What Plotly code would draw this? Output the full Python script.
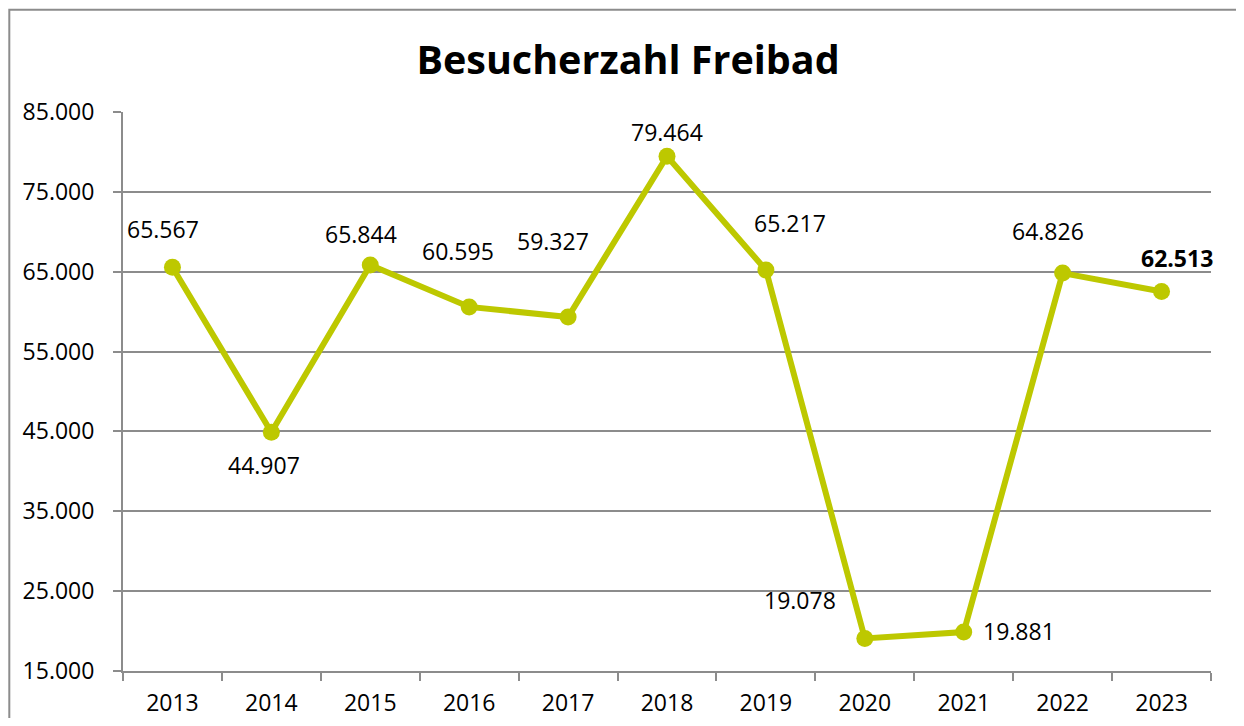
import plotly.graph_objects as go

years = ["2013", "2014", "2015", "2016", "2017", "2018", "2019", "2020", "2021", "2022", "2023"]
visitors = [65567, 44907, 65844, 60595, 59327, 79464, 65217, 19078, 19881, 64826, 62513]
# label offsets in pixels (styling only)
label_dx = [-9, -7, -9, -11, -15, 0, 24, -65, 55, -15, 15]
label_dy = [-38, 33, -31, -56, -76, -24, -47, -38, -1, -42, -34]
bold_last = [False] * 10 + [True]

y_ticks = list(range(15000, 85001, 10000))
line_color = "#BDC800"
FONT = "Open Sans"
GRAY = "#8c8c8c"

fig = go.Figure()
fig.add_trace(go.Scatter(
    x=years, y=visitors, mode="lines+markers",
    line=dict(color=line_color, width=6),
    marker=dict(color=line_color, size=17),
    showlegend=False, hoverinfo="skip",
))

for i, (v, dx, dy, b) in enumerate(zip(visitors, label_dx, label_dy, bold_last)):
    s = f"{v:,}".replace(",", ".")
    fig.add_annotation(
        x=i, y=v, xref="x", yref="y", text=f"<b>{s}</b>" if b else s, showarrow=False,
        xshift=dx, yshift=-dy, font=dict(family=FONT, size=23, color="black"),
    )

fig.add_shape(type="rect", xref="paper", yref="paper",
              x0=-0.1045, x1=1.06, y0=-0.15, y1=1.1827,
              line=dict(color=GRAY, width=2), layer="below")

fig.update_layout(
    width=1228, height=710,
    margin=dict(l=115, r=25, t=104, b=47),
    paper_bgcolor="white", plot_bgcolor="white",
    separators=",.",
    title=dict(text="<b>Besucherzahl Freibad</b>", x=0.5049, xanchor="center",
               y=1 - 52 / 710, yanchor="middle", yref="container",
               font=dict(family=FONT, size=39.5, color="black")),
    xaxis=dict(type="category", showgrid=False, showline=True, linecolor=GRAY, linewidth=2,
               ticks="outside", tickson="boundaries", ticklen=8, tickcolor=GRAY, tickwidth=2,
               ticklabelstandoff=10, automargin=False,
               tickfont=dict(family=FONT, size=23, color="black"), range=[-0.5, 10.5]),
    yaxis=dict(range=[15000, 85000], tickvals=y_ticks, tickformat=",d",
               showgrid=True, gridcolor=GRAY, gridwidth=1.5,
               showline=True, linecolor=GRAY, linewidth=2,
               ticks="outside", ticklen=8, tickcolor=GRAY, tickwidth=2,
               ticklabelstandoff=14, automargin=False,
               tickfont=dict(family=FONT, size=23, color="black"), zeroline=False),
    font=dict(family=FONT, color="black"),
)

fig.write_html("out.html")
